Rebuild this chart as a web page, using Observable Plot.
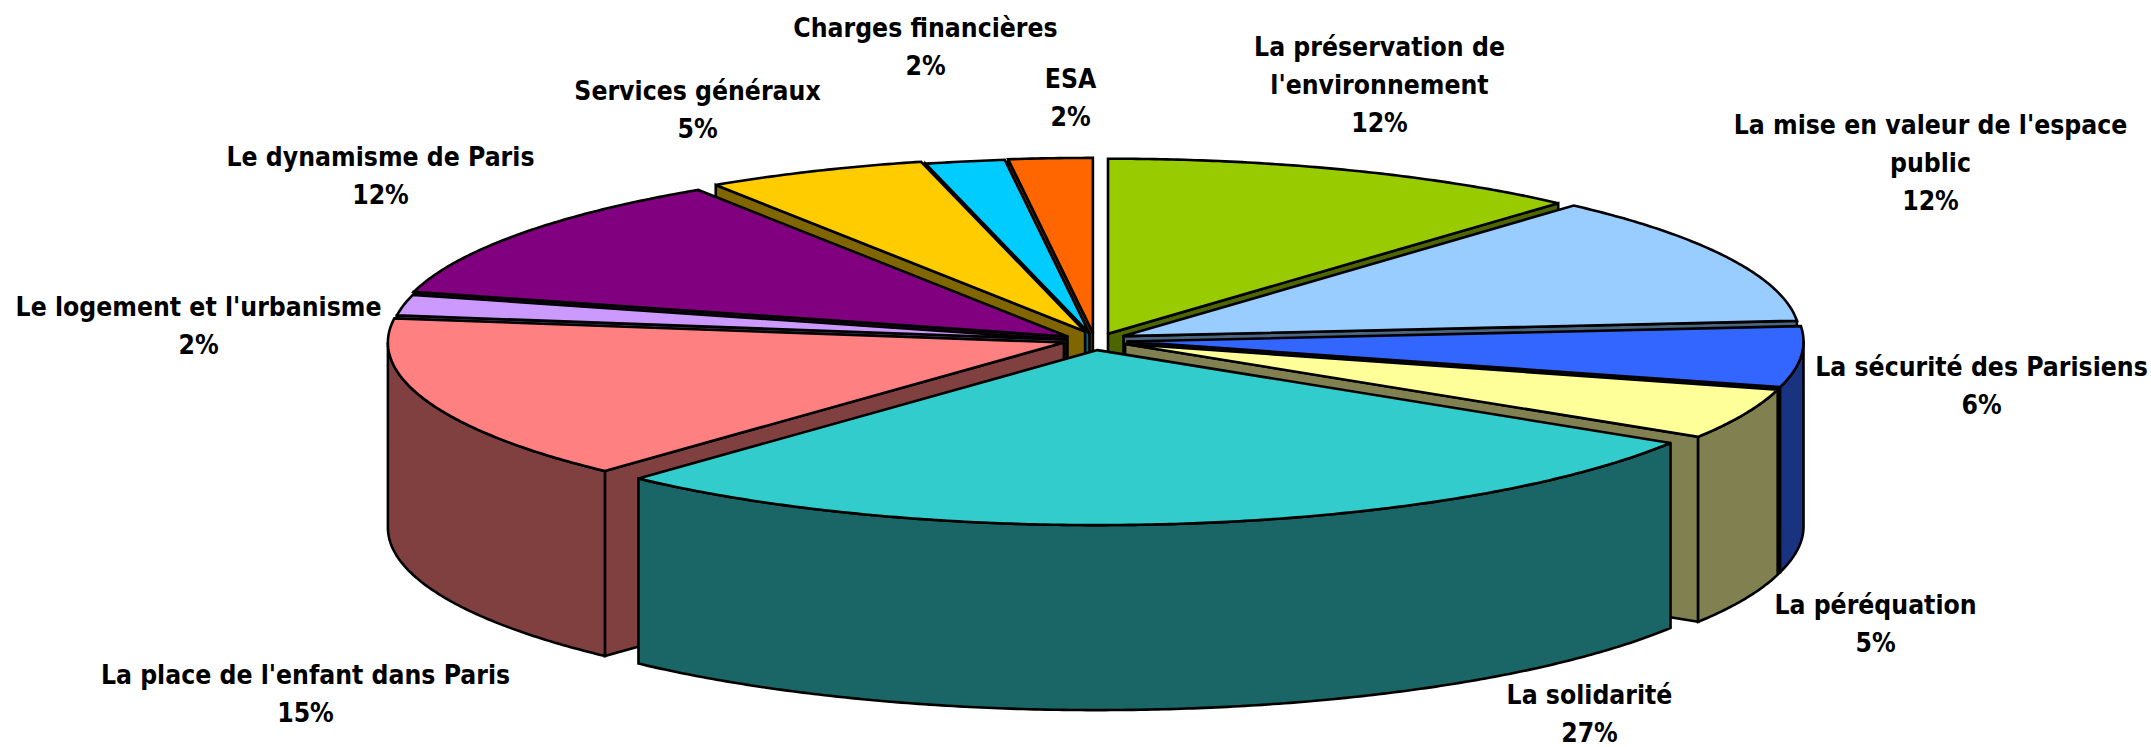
<!DOCTYPE html>
<html>
<head>
<meta charset="utf-8">
<script src="https://cdn.jsdelivr.net/npm/d3@7"></script>
<script src="https://cdn.jsdelivr.net/npm/@observablehq/plot@0.6"></script>
<style>
html,body{margin:0;padding:0;background:#fff;overflow:hidden}
svg{display:block;max-width:none}
</style>
</head>
<body>
<div id="chart"></div>
<script>
// ---- data (clockwise from 12 o'clock) ----
const categories = ["La préservation de\nl'environnement","La mise en valeur de l'espace\npublic","La sécurité des Parisiens","La péréquation","La solidarité","La place de l'enfant dans Paris","Le logement et l'urbanisme","Le dynamisme de Paris","Services généraux","Charges financières","ESA"];
const shares = [11.6,12.0,5.6,4.7,27.98,15.32,1.9,11.7,5.3,1.9,2.0];
const percentLabels = ["12%","12%","6%","5%","27%","15%","2%","12%","5%","2%","2%"];

// ---- styling and layout ----
const topColors  = ["#99CC00","#99CCFF","#3366FF","#FFFF99","#33CCCC","#FF8080","#CC99FF","#800080","#FFCC00","#00CCFF","#FF6600"];
const wallColors = ["#4D6600","#4D6680","#1A3380","#808050","#1A6666","#804040","#664D80","#400040","#806600","#006680","#803300"];
const explodeX = [13.5,29,33,30.6,3,-30.6,-28,-27,-9.4,-5,-1.6];
const explodeY = [-5.8,-3.4,2,4.5,10.6,3,0,-3,-8,-6,-6.6];
const paintOrder = [0,10,9,8,7,6,1,2,3,5,4];
const labelX = [1379,1930,1981,1875,1589,305,198,380,697,925,1070];
const labelY = [81,159,382,620,710,690,322,172,106,43,94];
const PIE = {cx:1094, cy:339, rx:676, ry:175, depth:185};

// ---- slice geometry derived from the shares ----
const rad = d => d * Math.PI / 180;
let cum = 0;
const slices = shares.map((s,i) => {
  const a0 = cum / 100 * 360; cum += s;
  const a1 = cum / 100 * 360;
  return {i, a0, a1, ax: PIE.cx + explodeX[i], ay: PIE.cy + explodeY[i]};
});
const rim = (s,a,dz=0) => ({x: s.ax + PIE.rx*Math.sin(rad(a)), y: s.ay - PIE.ry*Math.cos(rad(a)) + dz});
const arc = (s,a0,a1,dz=0) => {
  const n = Math.max(2, Math.ceil((a1-a0)*2));
  return d3.range(n+1).map(k => rim(s, a0 + (a1-a0)*k/n, dz));
};
const polys = [];
const add = (pts,color) => {
  const id = polys.length ? polys[polys.length-1].id + 1 : 0;
  [...pts, pts[0]].forEach(p => polys.push({id, x:p.x, y:p.y, color}));
};
for (const i of paintOrder) {
  const s = slices[i], w = wallColors[i], d = PIE.depth;
  const apex = {x:s.ax, y:s.ay}, apexB = {x:s.ax, y:s.ay + d};
  const wall = a => add([apex, rim(s,a), rim(s,a,d), apexB], w);
  if (s.a0 > 180) wall(s.a0);
  if (s.a1 < 180) wall(s.a1);
  const f0 = Math.max(s.a0, 90), f1 = Math.min(s.a1, 270);
  if (f1 > f0) add([...arc(s,f0,f1), ...arc(s,f0,f1,d).reverse()], w);
  add([apex, ...arc(s,s.a0,s.a1)], topColors[i]);
}
const labels = categories.map((c,i) => ({text:`${c}\n${percentLabels[i]}`, x:labelX[i], y:labelY[i]}));

const plot = Plot.plot({
  width:2151, height:747, margin:0,
  style:{background:"#fff"},
  x:{domain:[0,2151], range:[0,2151], axis:null},
  y:{domain:[0,747], range:[0,747], axis:null},
  color:{type:"identity"},
  marks:[
    Plot.line(polys,{x:"x",y:"y",z:"id",fill:"color",stroke:"#000",strokeWidth:2.6,strokeLinejoin:"miter",strokeMiterlimit:3,curve:"linear"}),
    Plot.text(labels,{x:"x",y:"y",text:"text",fill:"#000",fontSize:26.3,fontWeight:"bold",fontFamily:"'DejaVu Sans Condensed','DejaVu Sans'",fontStretch:"condensed",lineHeight:1.445,textAnchor:"middle"})
  ]
});
document.getElementById("chart").append(plot);
</script>
</body>
</html>
